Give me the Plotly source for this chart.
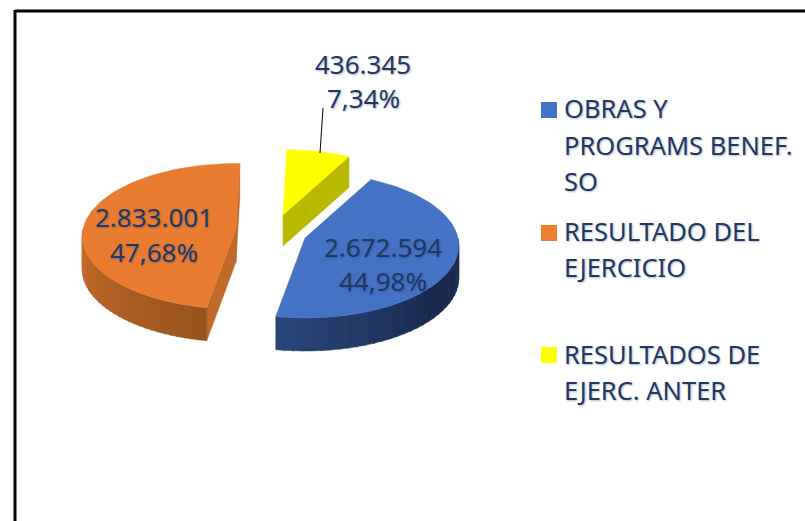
import math
import plotly.graph_objects as go

# ---- data ----
categories = [["OBRAS Y", "PROGRAMS BENEF.", "SO"], ["RESULTADO DEL", "EJERCICIO"], ["RESULTADOS DE", "EJERC. ANTER"]]
values = [2672594, 2833001, 436345]

# ---- styling / layout ----
W, H = 805, 521
top_colors = ["#4472C4", "#E97C30", "#FFFF00"]
legend_colors = ["#4472C4", "#ED7D31", "#FFFF00"]
wall_from = [(42, 72, 124), (204, 110, 44), (185, 185, 0)]
wall_to = [(25, 42, 78), (152, 84, 30), (185, 185, 0)]
cut_colors = ["#1F3864", "#BF6A2A", "#B9B900"]
centers = [(305, 238), (236, 229), (283, 215)]
depths = [33, 33, 31]
label_pos = [(383, (247, 281)), (154, (217, 252)), (363, (64, 98))]
legend_y = [(108, 145, 181), (231, 267), (354, 390)]
legend_sq_y = [110, 233, 355]
TXT = "#1F3864"
FONT = "Noto Sans"
SHADOW = "1px 1px 2px rgba(31,56,100,0.35)"
RX, RY, K = 153, 72, 0.10
START = 28.0


def proj(center, deg, r=1.0):
    t = math.radians(deg)
    u, v = r * math.sin(t), -r * math.cos(t)
    s = 1 / (1 - K * v)
    return center[0] + RX * u * s, center[1] + RY * v * s


def fmt_val(v):
    return f"{v:,}".replace(",", ".")


def fmt_pct(p):
    return f"{p:.2f}".replace(".", ",") + "%"


def poly(fig, pts, color):
    xs = [p[0] for p in pts] + [pts[0][0]]
    ys = [p[1] for p in pts] + [pts[0][1]]
    fig.add_trace(go.Scatter(x=xs, y=ys, mode="lines", fill="toself", fillcolor=color,
                             line=dict(color=color, width=0.5), showlegend=False, hoverinfo="skip"))


def text(fig, x, y, s, size, anchor):
    fig.add_annotation(x=x, y=y, text=s, showarrow=False,
                       font=dict(family=FONT, size=size, color=TXT, shadow=SHADOW),
                       xanchor=anchor, yanchor="middle")


fig = go.Figure()
total = sum(values)
angles = []
a = START
for v in values:
    b = a + 360 * v / total
    angles.append((a, b))
    a = b

for i in [1, 2, 0]:
    a0, a1 = angles[i]
    c, d = centers[i], depths[i]
    # cut faces
    if i == 1:
        p = [proj(c, a1), c, proj(c, a0)]
        poly(fig, [p[0], p[1], (p[1][0], p[1][1] + d), (p[0][0], p[0][1] + d)], cut_colors[i])
        poly(fig, [p[1], p[2], (p[2][0], p[2][1] + d), (p[1][0], p[1][1] + d)], cut_colors[i])
    if i == 2:
        e = proj(c, a1)
        poly(fig, [c, e, (e[0], e[1] + d), (c[0], c[1] + d)], cut_colors[i])
    # outer wall strips
    lo, hi = max(a0, 90), min(a1, 270)
    if hi > lo:
        n = 32
        for j in range(n):
            t0 = lo + (hi - lo) * j / n
            t1 = lo + (hi - lo) * (j + 1) / n + 0.6
            if i == 0:
                f = min(1, (n - j) / n * 1.6)
            else:
                f = 1 - j / n
            col = tuple(int(wall_from[i][q] + (wall_to[i][q] - wall_from[i][q]) * f) for q in range(3))
            p0, p1 = proj(c, t0), proj(c, min(t1, hi))
            poly(fig, [p0, p1, (p1[0], p1[1] + d), (p0[0], p0[1] + d)], f"rgb{col}")
    # top face
    n = 80
    pts = [c] + [proj(c, a0 + (a1 - a0) * j / n) for j in range(n + 1)]
    poly(fig, pts, top_colors[i])

# data labels
for v, (x, ys) in zip(values, label_pos):
    text(fig, x, ys[0], fmt_val(v), 26, "center")
    text(fig, x, ys[1], fmt_pct(100 * v / total), 26, "center")

# legend
for lines, col, ys, sy in zip(categories, legend_colors, legend_y, legend_sq_y):
    fig.add_trace(go.Scatter(x=[549], y=[sy], mode="markers", showlegend=False, hoverinfo="skip",
                             marker=dict(symbol="square", size=16, color=col, line=dict(width=0))))
    for line, y in zip(lines, ys):
        text(fig, 562, y, line, 25.5, "left")

# leader line and frame
fig.add_shape(type="line", x0=323, y0=108, x1=320, y1=153, line=dict(color="black", width=1))
fig.add_shape(type="line", x0=15, y0=11, x1=805, y1=11, line=dict(color="black", width=3))
fig.add_shape(type="line", x0=15, y0=10, x1=15, y1=521, line=dict(color="black", width=3))

fig.update_layout(
    width=W, height=H, margin=dict(l=0, r=0, t=0, b=0),
    paper_bgcolor="white", plot_bgcolor="white", showlegend=False,
    xaxis=dict(range=[0, W], visible=False, fixedrange=True),
    yaxis=dict(range=[H, 0], visible=False, fixedrange=True),
)
fig.write_html("out.html", config={"displayModeBar": False},
               post_script="document.body.style.margin='0';document.body.style.overflow='hidden';")
